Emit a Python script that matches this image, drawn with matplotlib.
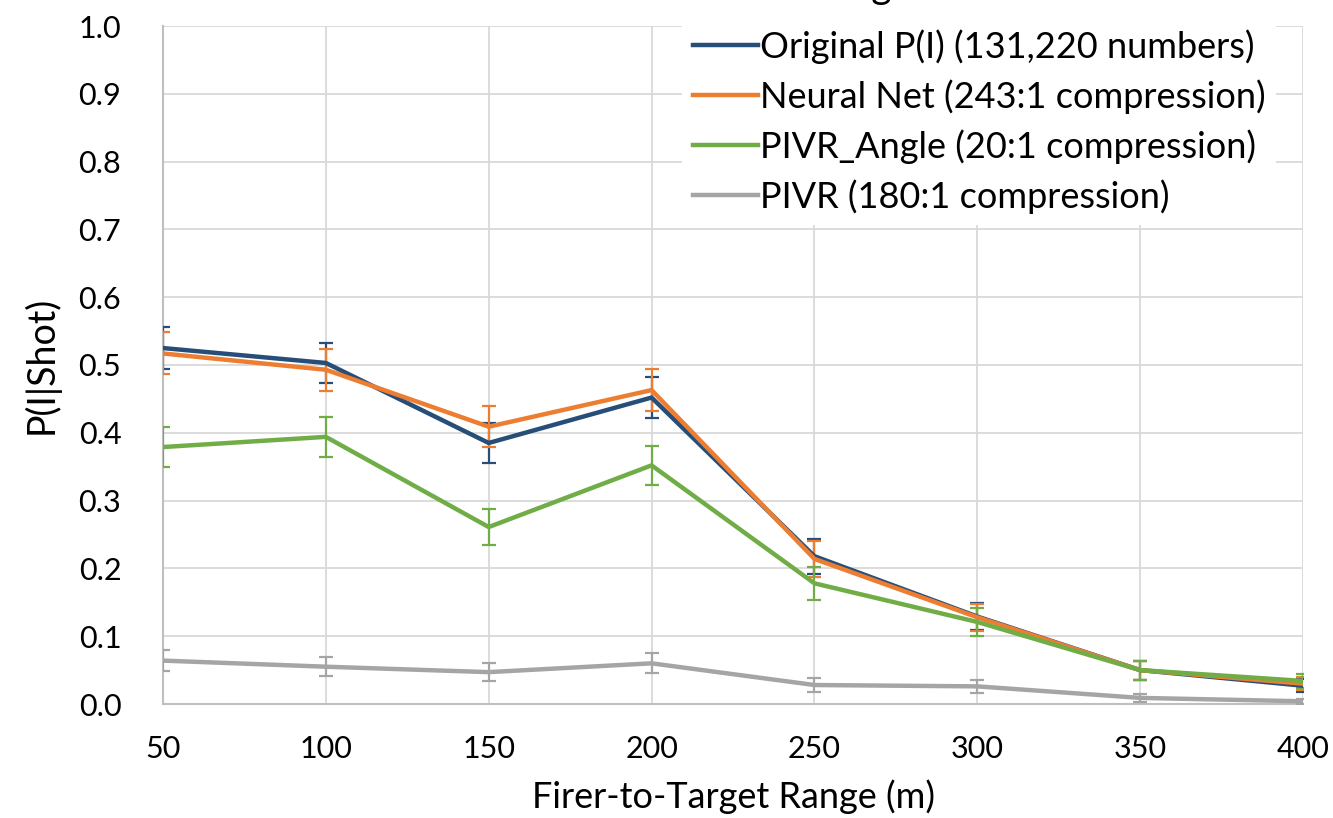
import matplotlib
matplotlib.use("Agg")
import matplotlib.pyplot as plt

plt.rcParams['font.family'] = ['Lato', 'DejaVu Sans']

ranges = [50, 100, 150, 200, 250, 300, 350, 400]
series_names = ["Original P(I) (131,220 numbers)",
                "Neural Net (243:1 compression)",
                "PIVR_Angle (20:1 compression)",
                "PIVR (180:1 compression)"]
original = [0.525, 0.503, 0.385, 0.452, 0.218, 0.129, 0.050, 0.027]
original_err = [0.031, 0.030, 0.030, 0.030, 0.026, 0.020, 0.014, 0.010]
neural = [0.517, 0.493, 0.409, 0.463, 0.214, 0.128, 0.050, 0.030]
neural_err = [0.031, 0.031, 0.030, 0.031, 0.026, 0.020, 0.014, 0.010]
pivr_angle = [0.379, 0.394, 0.261, 0.352, 0.178, 0.121, 0.050, 0.034]
pivr_angle_err = [0.030, 0.030, 0.027, 0.029, 0.024, 0.020, 0.014, 0.010]
pivr = [0.064, 0.055, 0.047, 0.060, 0.028, 0.026, 0.009, 0.004]
pivr_err = [0.015, 0.014, 0.013, 0.015, 0.011, 0.010, 0.006, 0.004]

colors = ["#264E78", "#ED7D31", "#70AD47", "#A5A5A5"]
yticks = [0.0, 0.1, 0.2, 0.3, 0.4, 0.5, 0.6, 0.7, 0.8, 0.9, 1.0]

fig = plt.figure(figsize=(13.33, 8.18), dpi=100)
ax = fig.add_axes([163/1333, 1 - 704/818, (1303-163)/1333, (704-26)/818])

data = [(original, original_err), (neural, neural_err),
        (pivr_angle, pivr_angle_err), (pivr, pivr_err)]
handles = []
for (vals, errs), name, c in zip(data, series_names, colors):
    ax.errorbar(ranges, vals, yerr=errs, color=c, lw=3.2, elinewidth=1.6,
                capsize=5, capthick=1.6, zorder=3)
    ln, = ax.plot([], [], color=c, lw=3.2, label=name)
    handles.append(ln)

ax.set_xlim(50, 400)
ax.set_ylim(0, 1.0)
ax.set_xticks(ranges)
ax.set_yticks(yticks)
ax.set_yticklabels([f"{v:.1f}" for v in yticks])
ax.tick_params(axis='both', length=0, labelsize=22, colors='black')
ax.tick_params(axis='x', pad=22)
ax.tick_params(axis='y', pad=30)
ax.grid(True, color='#D9D9D9', lw=1.3, zorder=0)
ax.set_axisbelow(True)
for s in ['top', 'right']:
    ax.spines[s].set_visible(False)
for s in ['left', 'bottom']:
    ax.spines[s].set_color('#BFBFBF')
    ax.spines[s].set_linewidth(1.5)

ax.set_xlabel("Firer-to-Target Range (m)", fontsize=26, labelpad=12)
ax.set_ylabel("P(I|Shot)", fontsize=27, labelpad=14)

leg = ax.legend(handles=handles, loc='upper left',
                bbox_to_anchor=(664/1333, 1.0),
                bbox_transform=fig.transFigure,
                fontsize=26, frameon=True, fancybox=False,
                handlelength=1.8, handletextpad=0.05, labelspacing=0.43,
                borderpad=0.3)
leg.get_frame().set_facecolor('white')
leg.get_frame().set_edgecolor('none')
leg.get_frame().set_alpha(1.0)
leg.set_zorder(5)

fig.text(912/1333, 1 + 2/818, "Range", fontsize=28, ha='right', va='baseline')

fig.savefig("out.png", dpi=100)
